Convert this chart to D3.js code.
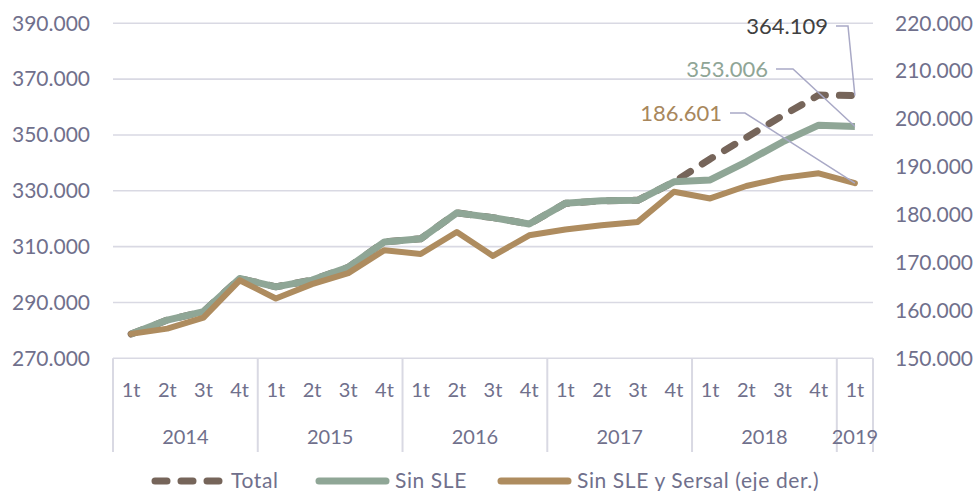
<!DOCTYPE html>
<html>
<head>
<meta charset="utf-8">
<title>Afiliados</title>
<style>
  body { margin: 0; background: #fff; }
  svg text { font-family: Lato, "Open Sans", sans-serif; }
</style>
</head>
<body>
<div id="chart"></div>
<script src="https://cdn.jsdelivr.net/npm/d3@7/dist/d3.min.js"></script>
<script>
(function(d3) {
  'use strict';

  // categories
  var quarters = ['1t','2t','3t','4t','1t','2t','3t','4t','1t','2t','3t','4t',
                  '1t','2t','3t','4t','1t','2t','3t','4t','1t'];
  var years = ['2014','2015','2016','2017','2018','2019'];
  var yearLengths = [4, 4, 4, 4, 4, 1];

  // series (left axis: total, sinSLE; right axis: sinSLESersal)
  var total = [278700, 283700, 286700, 298600, 295600, 298000, 302600, 311700,
               312800, 322100, 320400, 318100, 325500, 326400, 326600, 333200,
               341400, 349100, 356900, 364300, 364109];
  var sinSLE = [278700, 283700, 286700, 298600, 295600, 298000, 302600, 311700,
                312800, 322100, 320400, 318100, 325500, 326400, 326600, 333200,
                333900, 340400, 347500, 353500, 353006];
  var sinSLESersal = [155100, 156200, 158500, 166300, 162500, 165500, 167800, 172600,
                      171800, 176400, 171400, 175700, 176900, 177800, 178500, 184800,
                      183400, 186000, 187700, 188650, 186601];

  var leftTicks = [270000, 290000, 310000, 330000, 350000, 370000, 390000];
  var rightTicks = [150000, 160000, 170000, 180000, 190000, 200000, 210000, 220000];

  var width = 977, height = 491;
  var left = 113, right = 873, top = 23.3, bottom = 358.3;

  var axisColor = '#70708c';
  var gridColor = '#d9d9e3';
  var cTotal = '#76655a', cSin = '#8fa696', cSersal = '#ae8c5f';

  var loc = d3.formatLocale({ decimal: ',', thousands: '.', grouping: [3], currency: ['', '€'] });
  var fmt = loc.format(',.0f');

  var svg = d3.select('#chart').append('svg')
    .attr('width', width).attr('height', height);

  var x = d3.scaleBand().domain(d3.range(quarters.length)).range([left, right]);
  var cx = function(i) { return x(i) + x.bandwidth() / 2; };
  var yL = d3.scaleLinear().domain([270000, 390000]).range([bottom, top]);
  var yR = d3.scaleLinear().domain([150000, 220000]).range([bottom, top]);

  // gridlines
  svg.append('g').selectAll('line').data(leftTicks).enter().append('line')
    .attr('x1', left).attr('x2', right)
    .attr('y1', function(d) { return yL(d); }).attr('y2', function(d) { return yL(d); })
    .attr('stroke', gridColor).attr('stroke-width', 1.6);

  // left axis
  var gL = svg.append('g').attr('transform', 'translate(' + left + ',0)')
    .call(d3.axisLeft(yL).tickValues(leftTicks).tickFormat(fmt).tickSize(0).tickPadding(23));
  gL.select('.domain').remove();
  gL.selectAll('text').attr('fill', axisColor).attr('font-size', 21)
    .attr('font-family', 'Lato, sans-serif');

  // right axis
  var gR = svg.append('g').attr('transform', 'translate(' + right + ',0)')
    .call(d3.axisRight(yR).tickValues(rightTicks).tickFormat(fmt).tickSize(0).tickPadding(22));
  gR.select('.domain').remove();
  gR.selectAll('text').attr('fill', axisColor).attr('font-size', 21)
    .attr('font-family', 'Lato, sans-serif');

  // x axis: quarters and years
  var xa = svg.append('g');
  xa.selectAll('text.q').data(quarters).enter().append('text')
    .attr('class', 'q')
    .attr('x', function(d, i) { return cx(i); })
    .attr('y', 390).attr('dy', '0.35em')
    .attr('text-anchor', 'middle').attr('font-size', 20).attr('fill', axisColor)
    .text(function(d) { return d; });

  var starts = [];
  var acc = 0;
  yearLengths.forEach(function(n) { starts.push(acc); acc += n; });
  starts.push(acc);
  var sepX = starts.map(function(s) { return s < quarters.length ? x(s) : right; });
  xa.selectAll('line').data(sepX).enter().append('line')
    .attr('x1', function(d) { return d; }).attr('x2', function(d) { return d; })
    .attr('y1', bottom).attr('y2', 452)
    .attr('stroke', gridColor).attr('stroke-width', 2);
  xa.selectAll('text.y').data(years).enter().append('text')
    .attr('class', 'y')
    .attr('x', function(d, i) { return (sepX[i] + sepX[i + 1]) / 2; })
    .attr('y', 437).attr('dy', '0.35em')
    .attr('text-anchor', 'middle').attr('font-size', 20).attr('fill', axisColor)
    .text(function(d) { return d; });

  // lines
  var lineL = d3.line().x(function(d, i) { return cx(i); }).y(function(d) { return yL(d); });
  var lineR = d3.line().x(function(d, i) { return cx(i); }).y(function(d) { return yR(d); });

  svg.append('path').datum(total).attr('d', lineL)
    .attr('fill', 'none').attr('stroke', cTotal).attr('stroke-width', 7)
    .attr('stroke-dasharray', '12 14').attr('stroke-linecap', 'round')
    .attr('stroke-linejoin', 'round');
  svg.append('path').datum(sinSLE).attr('d', lineL)
    .attr('fill', 'none').attr('stroke', cSin).attr('stroke-width', 7)
    .attr('stroke-linejoin', 'round');
  svg.append('path').datum(sinSLESersal).attr('d', lineR)
    .attr('fill', 'none').attr('stroke', cSersal).attr('stroke-width', 6)
    .attr('stroke-linejoin', 'round').attr('stroke-linecap', 'round');

  // data labels for the last point
  var last = quarters.length - 1;
  var labels = [
    { v: total[last], y: yL(total[last]), tx: 828, ty: 26, elbow: 848, color: '#404040' },
    { v: sinSLE[last], y: yL(sinSLE[last]), tx: 768, ty: 69, elbow: 793, color: '#8fa596' },
    { v: sinSLESersal[last], y: yR(sinSLESersal[last]), tx: 722, ty: 113, elbow: 745, color: '#a8875c' }
  ];
  var ann = svg.append('g');
  ann.selectAll('path').data(labels).enter().append('path')
    .attr('d', function(d) {
      return 'M' + (d.tx + 8) + ',' + d.ty + 'H' + d.elbow + 'L' + cx(last) + ',' + d.y;
    })
    .attr('fill', 'none').attr('stroke', '#a9a9c6').attr('stroke-width', 1.5);
  ann.selectAll('text').data(labels).enter().append('text')
    .attr('x', function(d) { return d.tx; }).attr('y', function(d) { return d.ty; })
    .attr('dy', '0.35em').attr('text-anchor', 'end').attr('font-size', 22)
    .attr('fill', function(d) { return d.color; })
    .text(function(d) { return fmt(d.v); });

  // legend
  var legend = [
    { name: 'Total', color: cTotal, x: 155, dash: '12 14' },
    { name: 'Sin SLE', color: cSin, x: 319, dash: null },
    { name: 'Sin SLE y Sersal (eje der.)', color: cSersal, x: 501, dash: null }
  ];
  var lg = svg.append('g').selectAll('g').data(legend).enter().append('g')
    .attr('transform', function(d) { return 'translate(' + d.x + ',481)'; });
  lg.append('line').attr('x1', 0).attr('x2', 67).attr('y1', 0).attr('y2', 0)
    .attr('stroke', function(d) { return d.color; }).attr('stroke-width', 7)
    .attr('stroke-linecap', 'round')
    .attr('stroke-dasharray', function(d) { return d.dash; });
  lg.append('text').attr('x', 76).attr('y', 0).attr('dy', '0.32em')
    .attr('font-size', 21).attr('letter-spacing', 0.6).attr('fill', axisColor)
    .text(function(d) { return d.name; });
})(window.d3);
</script>
</body>
</html>
